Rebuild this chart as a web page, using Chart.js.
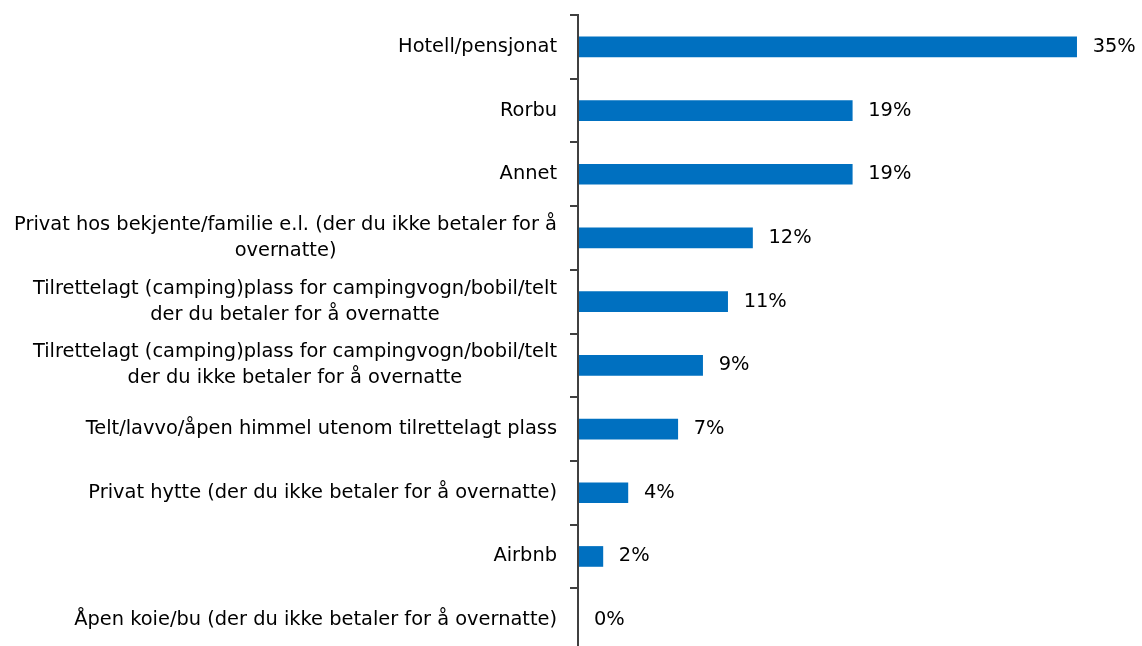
<!DOCTYPE html>
<html>
<head>
<meta charset="utf-8">
<script src="https://cdn.jsdelivr.net/npm/chart.js@4"></script>
<style>
  html, body { margin: 0; padding: 0; background: #fff; overflow: hidden; }
  #wrap { width: 1142px; height: 652px; }
</style>
</head>
<body>
<div id="wrap"><canvas id="myChart"></canvas></div>
<script>
const categories = [
  ["Hotell/pensjonat"],
  ["Rorbu"],
  ["Annet"],
  ["Privat hos bekjente/familie e.l. (der du ikke betaler for å", "overnatte)"],
  ["Tilrettelagt (camping)plass for campingvogn/bobil/telt", "der du betaler for å overnatte"],
  ["Tilrettelagt (camping)plass for campingvogn/bobil/telt", "der du ikke betaler for å overnatte"],
  ["Telt/lavvo/åpen himmel utenom tilrettelagt plass"],
  ["Privat hytte (der du ikke betaler for å overnatte)"],
  ["Airbnb"],
  ["Åpen koie/bu (der du ikke betaler for å overnatte)"]
];
const shares = [35.09, 19.30, 19.30, 12.28, 10.53, 8.77, 7.02, 3.51, 1.75, 0];

const FONT = "19.4px 'DejaVu Sans'";
const AXIS_X = 578;

// category labels: right aligned block, lines centred within the block
const catLabels = {
  id: "catLabels",
  afterDraw(chart) {
    const ctx = chart.ctx;
    const y = chart.scales.y;
    ctx.save();
    ctx.font = FONT;
    ctx.fillStyle = "#000";
    ctx.textAlign = "center";
    ctx.textBaseline = "middle";
    const lh = 26;
    categories.forEach((lines, i) => {
      const cy = y.getPixelForValue(i);
      const w = Math.max(...lines.map(l => ctx.measureText(l).width));
      const cx = AXIS_X - 21 - w / 2;
      lines.forEach((l, j) => {
        ctx.fillText(l, cx, cy + (j - (lines.length - 1) / 2) * lh);
      });
    });
    ctx.restore();
  }
};

// value labels to the right of each bar
const valueLabels = {
  id: "valueLabels",
  afterDatasetsDraw(chart) {
    const ctx = chart.ctx;
    const meta = chart.getDatasetMeta(0);
    ctx.save();
    ctx.font = FONT;
    ctx.fillStyle = "#000";
    ctx.textAlign = "left";
    ctx.textBaseline = "middle";
    meta.data.forEach((bar, i) => {
      ctx.fillText(Math.round(shares[i]) + "%", bar.x + 16, bar.y);
    });
    ctx.restore();
  }
};

new Chart("myChart", {
  type: "bar",
  data: {
    labels: categories,
    datasets: [{
      backgroundColor: "#0070C0",
      data: shares,
      barThickness: 20
    }]
  },
  options: {
    indexAxis: "y",
    responsive: true,
    maintainAspectRatio: false,
    animation: false,
    layout: { padding: { top: 15, right: 24, left: 0, bottom: 0 } },
    plugins: {
      legend: { display: false },
      tooltip: { enabled: false }
    },
    scales: {
      x: { display: false, min: 0, max: 38 },
      y: {
        ticks: { display: false },
        grid: { drawOnChartArea: false, drawTicks: true, tickLength: 8, color: "#404040", lineWidth: 2 },
        border: { color: "#404040", width: 2, z: 1 },
        afterFit(scale) { scale.width = AXIS_X; }
      }
    }
  },
  plugins: [catLabels, valueLabels]
});
</script>
</body>
</html>
